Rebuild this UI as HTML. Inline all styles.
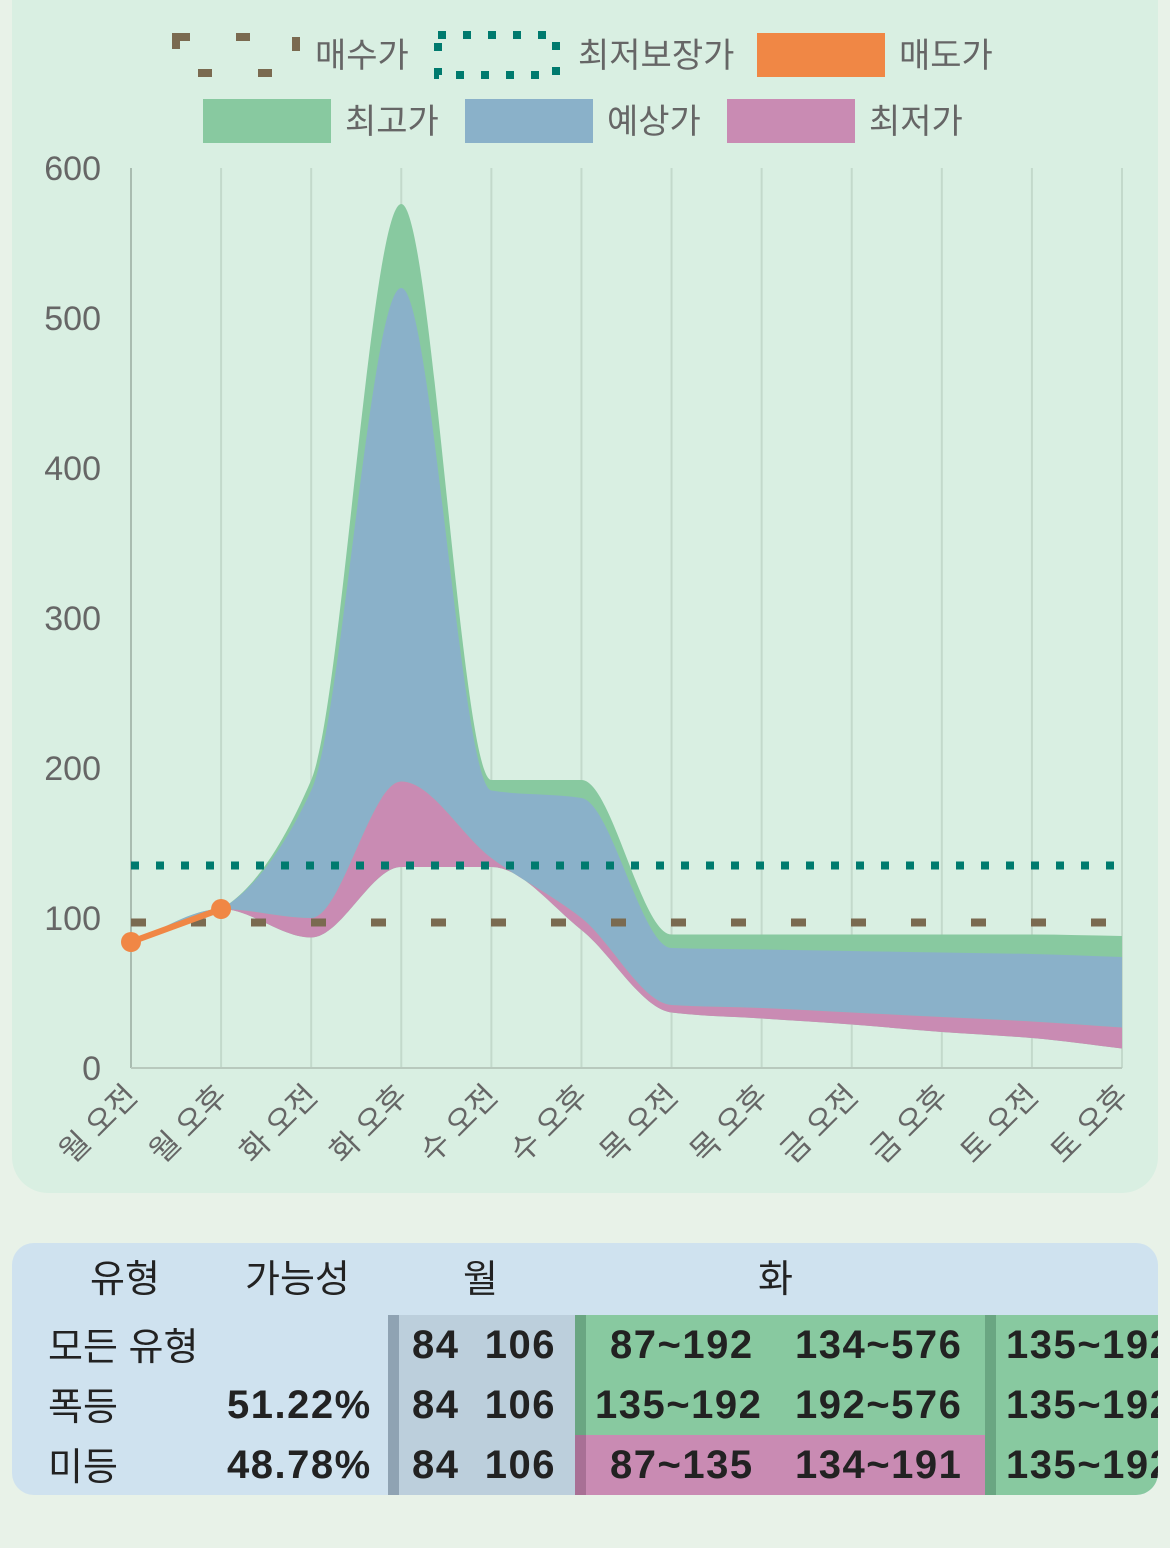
<!DOCTYPE html>
<html><head><meta charset="utf-8">
<style>
body{margin:0;width:1170px;height:1548px;background:#e8f2e8;font-family:"Liberation Sans","Noto Sans CJK KR",sans-serif;position:relative;overflow:hidden}
#panel{position:absolute;left:12px;top:0;width:1146px;height:1193px;background:#d9efe2;border-radius:0 0 36px 36px}
#tbl{position:absolute;left:12px;top:1243px;width:1146px;height:252px;background:#cfe2ef;border-radius:22px;overflow:hidden}
.t{position:absolute;font-size:38px;color:#222;white-space:nowrap}
.b{font-weight:bold;font-size:40px;letter-spacing:1.5px}
.k{margin-top:-7px}
.c{position:absolute}
</style></head><body>
<div id="panel"></div>
<svg id="chart" width="1170" height="1200" style="position:absolute;left:0;top:0"></svg>
<div id="tbl">
  <div class="c" style="left:376px;top:72px;width:187px;height:180px;background:#bccfdc"></div>
  <div class="c" style="left:376px;top:72px;width:11px;height:180px;background:#8fa3b3"></div>
  <div class="c" style="left:563px;top:72px;width:410px;height:120px;background:#88c9a0"></div>
  <div class="c" style="left:563px;top:192px;width:410px;height:60px;background:#c98bb3"></div>
  <div class="c" style="left:563px;top:72px;width:11px;height:120px;background:#6aa682"></div>
  <div class="c" style="left:563px;top:192px;width:11px;height:60px;background:#a87095"></div>
  <div class="c" style="left:973px;top:72px;width:200px;height:180px;background:#88c9a0"></div>
  <div class="c" style="left:973px;top:72px;width:11px;height:180px;background:#6aa682"></div>
  <div class="t k" style="left:78px;top:12px">유형</div>
  <div class="t k" style="left:233px;top:12px">가능성</div>
  <div class="t k" style="left:451px;top:12px">월</div>
  <div class="t k" style="left:746px;top:12px">화</div>
  <div class="t k" style="left:36px;top:80px">모든 유형</div>
  <div class="t k" style="left:36px;top:140px">폭등</div>
  <div class="t k" style="left:36px;top:200px">미등</div>
  <div class="t b" style="left:215px;top:140px">51.22%</div>
  <div class="t b" style="left:215px;top:200px">48.78%</div>
  <div class="t b" style="left:400px;top:80px">84&nbsp;&nbsp;106</div>
  <div class="t b" style="left:400px;top:140px">84&nbsp;&nbsp;106</div>
  <div class="t b" style="left:400px;top:200px">84&nbsp;&nbsp;106</div>
  <div class="t b" style="left:598px;top:80px">87~192</div>
  <div class="t b" style="left:783px;top:80px">134~576</div>
  <div class="t b" style="left:583px;top:140px">135~192</div>
  <div class="t b" style="left:783px;top:140px">192~576</div>
  <div class="t b" style="left:598px;top:200px">87~135</div>
  <div class="t b" style="left:783px;top:200px">134~191</div>
  <div class="t b" style="left:994px;top:80px">135~192</div>
  <div class="t b" style="left:994px;top:140px">135~192</div>
  <div class="t b" style="left:994px;top:200px">135~192</div>
</div>
<script>
const categories=["월 오전","월 오후","화 오전","화 오후","수 오전","수 오후","목 오전","목 오후","금 오전","금 오후","토 오전","토 오후"];
const highest=[84,106,192,576,192,192,89,89,89,89,89,88];
const expected=[84,106,185,520,185,180,80,79,78,77,76,74];
const lowTop=[84,106,100,191,140,100,42,40,37,34,31,27];
const lowest=[84,106,87,134,134,92,37,33,29,24,20,13];
const sell=[84,106];
const buyPrice=97;
const guarantee=135;
const yTicks=[0,100,200,300,400,500,600];
const NS="http://www.w3.org/2000/svg";
const svg=document.getElementById('chart');
const X0=131,DX=(1122-131)/11,Y0=1068,SY=1.5;
const xs=i=>X0+i*DX, ys=v=>Y0-v*SY;
function mk(t,a,p){const e=document.createElementNS(NS,t);for(const k in a)e.setAttribute(k,a[k]);(p||svg).appendChild(e);return e;}
function seg(px,py){
  const n=px.length,d=[],m=[];
  for(let i=0;i<n-1;i++)d.push((py[i+1]-py[i])/(px[i+1]-px[i]));
  for(let i=0;i<n;i++){if(i==0)m.push(d[0]);else if(i==n-1)m.push(d[n-2]);else m.push(d[i-1]*d[i]<=0?0:2/(1/d[i-1]+1/d[i]));}
  let s="";
  for(let i=0;i<n-1;i++){const h=(px[i+1]-px[i])/3;s+=` C${px[i]+h},${py[i]+m[i]*h} ${px[i+1]-h},${py[i+1]-m[i+1]*h} ${px[i+1]},${py[i+1]}`;}
  return s;
}
function band(top,bot,fill,name){
  const n=top.length;
  const tx=top.map((v,i)=>xs(i)),ty=top.map(ys);
  const rb=bot.slice().reverse();
  const bx=rb.map((v,i)=>xs(n-1-i)),by=rb.map(ys);
  const p=mk('path',{d:`M${tx[0]},${ty[0]}${seg(tx,ty)} L${bx[0]},${by[0]}${seg(bx,by)} Z`,fill:fill});
  
  
}
categories.forEach((c,i)=>{
  const l=mk('line',{x1:xs(i),x2:xs(i),y1:168,y2:Y0,stroke:i==0?'#a9bcb0':'#c3d9cb','stroke-width':2});
  
  
  const t=mk('text',{x:xs(i)+8,y:1098,'font-size':31,fill:'#666','text-anchor':'end',transform:`rotate(-45 ${xs(i)+8} 1098)`});
  t.textContent=c;
  
  
});
mk('line',{x1:X0,x2:1122,y1:Y0,y2:Y0,stroke:'#b8c9bd','stroke-width':2});
yTicks.forEach(v=>{
  const t=mk('text',{x:101,y:ys(v)+12,'font-size':34,fill:'#666','text-anchor':'end'});
  t.textContent=v;
  
  
});
band(highest,lowest,'#88c9a0','highest-band');
band(expected,lowTop,'#8ab1c9','expected-band');
band(lowTop,lowest,'#c98bb3','lowest-band');
const bl=mk('line',{x1:131,x2:1122,y1:ys(buyPrice),y2:ys(buyPrice),stroke:'#7a6a50','stroke-width':8,'stroke-dasharray':'15 45'});


const gl=mk('line',{x1:131,x2:1122,y1:ys(guarantee),y2:ys(guarantee),stroke:'#007a6e','stroke-width':8,'stroke-dasharray':'8 17'});


const sl=mk('polyline',{points:sell.map((v,i)=>xs(i)+','+ys(v)).join(' '),fill:'none',stroke:'#f08745','stroke-width':6});


sell.forEach((v,i)=>{const c=mk('circle',{cx:xs(i),cy:ys(v),r:10,fill:'#f08745'});
  
  });
function leg(x,y,kind,color,label){
  const g=mk('g',{});
  
  
  if(kind=='rect')mk('rect',{x:x,y:y-22,width:128,height:44,fill:color},g);
  else if(kind=='dash'){mk('rect',{x:x,y:y-18,width:120,height:36,fill:'none',stroke:color,'stroke-width':8,'stroke-dasharray':'14 46'},g);}
  else mk('rect',{x:x,y:y-20,width:118,height:40,fill:'none',stroke:color,'stroke-width':8,'stroke-dasharray':'8 17'},g);
  const t=mk('text',{x:x+(kind=='rect'?142:kind=='dash'?139:140),y:y+12,'font-size':34,fill:'#666'},g);t.textContent=label;
}
leg(176,55,'dash','#7a6a50','매수가');
leg(438,55,'dot','#007a6e','최저보장가');
leg(757,55,'rect','#f08745','매도가');
leg(203,121,'rect','#88c9a0','최고가');
leg(465,121,'rect','#8ab1c9','예상가');
leg(727,121,'rect','#c98bb3','최저가');
</script>
</body></html>
